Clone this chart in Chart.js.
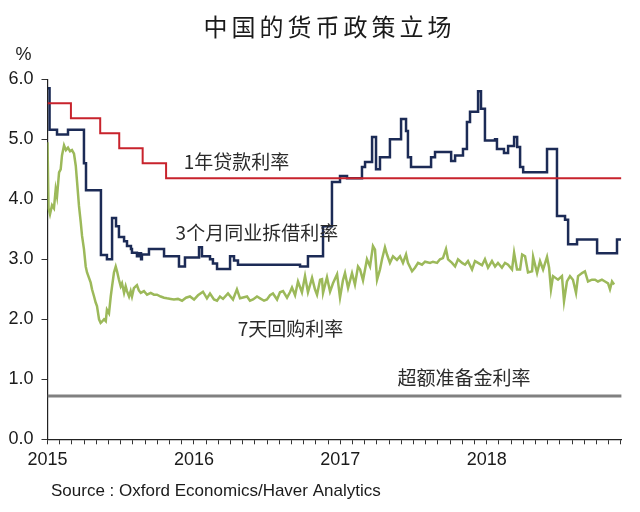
<!DOCTYPE html>
<html>
<head>
<meta charset="utf-8">
<title>中国的货币政策立场</title>
<script src="https://cdn.jsdelivr.net/npm/chart.js@4.4.1/dist/chart.umd.min.js"></script>
<style>
  html, body { margin: 0; padding: 0; background: #fff; }
  #wrap { width: 640px; height: 512px; }
</style>
</head>
<body>
<div id="wrap"><canvas id="policyChart" width="640" height="512"></canvas></div>
<script>
// Values, time in decimal years
const loanDates = [2015.0, 2015.16, 2015.36, 2015.49, 2015.65, 2015.81, 2018.92];
const loanRates = [5.6, 5.35, 5.1, 4.85, 4.6, 4.35, 4.35];

const shiborDates = [
  2015.003, 2015.014, 2015.065, 2015.140, 2015.249, 2015.263, 2015.365, 2015.406, 2015.441, 2015.468,
  2015.488, 2015.523, 2015.543, 2015.570, 2015.577, 2015.611, 2015.624, 2015.639, 2015.645, 2015.693,
  2015.796, 2015.898, 2015.939, 2016.035, 2016.055, 2016.110, 2016.130, 2016.158, 2016.247, 2016.274,
  2016.301, 2016.725, 2016.779, 2016.882, 2016.943, 2016.998, 2017.046, 2017.148, 2017.169, 2017.217,
  2017.244, 2017.271, 2017.339, 2017.415, 2017.449, 2017.462, 2017.483, 2017.620, 2017.647, 2017.757,
  2017.784, 2017.838, 2017.865, 2017.886, 2017.941, 2017.961, 2017.988, 2018.057, 2018.070, 2018.118,
  2018.146, 2018.187, 2018.208, 2018.228, 2018.249, 2018.412, 2018.480, 2018.535, 2018.556, 2018.617,
  2018.754, 2018.890, 2018.917
];
const shiborRates = [
  5.85, 5.16, 5.08, 5.16, 4.60, 4.15, 3.07, 3.00, 3.69, 3.55,
  3.37, 3.30, 3.22, 3.17, 3.11, 3.05, 3.10, 3.00, 3.08, 3.17,
  3.05, 2.88, 3.03, 3.20, 3.05, 3.00, 2.93, 2.84, 3.05, 2.98,
  2.91, 2.88, 3.05, 3.55, 4.29, 4.39, 4.35, 4.54, 4.62, 5.04,
  4.50, 4.70, 5.00, 5.34, 5.14, 4.70, 4.54, 4.70, 4.79, 4.64,
  4.73, 4.84, 5.29, 5.46, 5.80, 5.51, 4.98, 5.00, 4.84, 4.77,
  4.89, 5.04, 4.87, 4.54, 4.45, 4.84, 3.72, 3.66, 3.25, 3.33,
  3.10, 3.33, 3.33
];

const repoDates = [
  2015.000, 2015.007, 2015.017, 2015.031, 2015.044, 2015.056, 2015.065, 2015.079, 2015.090, 2015.099,
  2015.113, 2015.126, 2015.140, 2015.154, 2015.167, 2015.181, 2015.193, 2015.202, 2015.215, 2015.227,
  2015.236, 2015.249, 2015.261, 2015.270, 2015.295, 2015.304, 2015.318, 2015.329, 2015.338, 2015.352,
  2015.363, 2015.372, 2015.386, 2015.398, 2015.406, 2015.420, 2015.432, 2015.441, 2015.454, 2015.466,
  2015.475, 2015.488, 2015.500, 2015.509, 2015.523, 2015.534, 2015.543, 2015.557, 2015.568, 2015.577,
  2015.590, 2015.602, 2015.611, 2015.624, 2015.637, 2015.659, 2015.680, 2015.705, 2015.727, 2015.748,
  2015.773, 2015.796, 2015.816, 2015.842, 2015.864, 2015.891, 2015.919, 2015.946, 2015.973, 2016.001,
  2016.028, 2016.062, 2016.089, 2016.110, 2016.137, 2016.158, 2016.178, 2016.199, 2016.233, 2016.267,
  2016.294, 2016.315, 2016.329, 2016.363, 2016.383, 2016.404, 2016.431, 2016.452, 2016.479, 2016.499,
  2016.520, 2016.540, 2016.568, 2016.588, 2016.609, 2016.636, 2016.656, 2016.670, 2016.691, 2016.711,
  2016.738, 2016.759, 2016.779, 2016.807, 2016.827, 2016.841, 2016.862, 2016.875, 2016.882, 2016.909,
  2016.930, 2016.950, 2016.978, 2016.998, 2017.018, 2017.032, 2017.053, 2017.080, 2017.100, 2017.121,
  2017.135, 2017.155, 2017.182, 2017.203, 2017.223, 2017.237, 2017.251, 2017.271, 2017.285, 2017.305,
  2017.319, 2017.339, 2017.360, 2017.387, 2017.408, 2017.428, 2017.449, 2017.462, 2017.490, 2017.510,
  2017.531, 2017.558, 2017.579, 2017.613, 2017.633, 2017.661, 2017.681, 2017.701, 2017.722, 2017.736,
  2017.763, 2017.784, 2017.804, 2017.832, 2017.852, 2017.872, 2017.900, 2017.920, 2017.941, 2017.968,
  2017.988, 2018.009, 2018.036, 2018.057, 2018.077, 2018.104, 2018.125, 2018.146, 2018.173, 2018.187,
  2018.207, 2018.228, 2018.242, 2018.262, 2018.282, 2018.310, 2018.317, 2018.344, 2018.364, 2018.385,
  2018.412, 2018.426, 2018.439, 2018.453, 2018.487, 2018.514, 2018.528, 2018.548, 2018.569, 2018.589,
  2018.610, 2018.624, 2018.651, 2018.671, 2018.692, 2018.719, 2018.740, 2018.760, 2018.787, 2018.808,
  2018.829, 2018.842, 2018.856, 2018.870
];
const repoRates = [
  4.95, 3.85, 3.75, 3.90, 3.85, 4.17, 4.05, 4.45, 4.50, 4.73,
  4.90, 4.82, 4.86, 4.80, 4.82, 4.76, 4.56, 4.29, 3.89, 3.62,
  3.39, 3.17, 2.88, 2.78, 2.61, 2.50, 2.38, 2.28, 2.22, 2.00,
  1.94, 1.96, 2.00, 1.97, 2.16, 2.10, 2.38, 2.55, 2.78, 2.88,
  2.80, 2.66, 2.55, 2.60, 2.44, 2.55, 2.47, 2.38, 2.47, 2.38,
  2.52, 2.55, 2.57, 2.48, 2.44, 2.47, 2.41, 2.44, 2.41, 2.41,
  2.38, 2.36, 2.35, 2.34, 2.33, 2.34, 2.31, 2.36, 2.38, 2.33,
  2.40, 2.46, 2.35, 2.43, 2.33, 2.31, 2.38, 2.34, 2.43, 2.33,
  2.50, 2.35, 2.36, 2.38, 2.31, 2.33, 2.38, 2.35, 2.31, 2.33,
  2.40, 2.43, 2.33, 2.45, 2.47, 2.36, 2.45, 2.53, 2.40, 2.63,
  2.45, 2.72, 2.45, 2.69, 2.50, 2.41, 2.66, 2.67, 2.44, 2.70,
  2.46, 2.60, 2.75, 2.36, 2.65, 2.77, 2.52, 2.77, 2.58, 2.88,
  2.83, 2.65, 3.00, 2.88, 3.22, 3.16, 2.66, 2.83, 3.00, 3.20,
  3.08, 2.94, 3.05, 2.99, 3.05, 2.94, 3.08, 2.94, 2.80, 2.86,
  2.94, 2.91, 2.96, 2.94, 2.96, 2.94, 3.00, 3.02, 3.17, 3.00,
  2.94, 2.88, 3.00, 2.94, 2.91, 2.97, 2.83, 2.97, 2.94, 2.90,
  3.00, 2.86, 2.97, 2.88, 2.94, 2.86, 2.94, 2.91, 2.83, 3.11,
  2.83, 2.83, 3.08, 3.05, 2.78, 2.80, 3.04, 2.77, 2.97, 2.83,
  3.04, 2.86, 2.50, 2.72, 2.66, 2.72, 2.30, 2.63, 2.72, 2.66,
  2.44, 2.72, 2.77, 2.80, 2.63, 2.66, 2.66, 2.63, 2.66, 2.63,
  2.60, 2.50, 2.63, 2.58
];

const excessDates = [2015.0, 2018.93];
const excessRates = [0.72, 0.72];

const yearTickValues = [2015, 2016, 2017, 2018];
const yearTickLabels = ['2015', '2016', '2017', '2018'];
// monthly minor ticks on the time axis
const monthTicks = [];
for (let i = 0; i < 48; i++) monthTicks.push(2015 + i / 12);

const seriesLabels = [
  { text: '1年贷款利率', x: 2015.93, y: 4.62 },
  { text: '3个月同业拆借利率', x: 2015.875, y: 3.44 },
  { text: '7天回购利率', x: 2016.30, y: 1.84 },
  { text: '超额准备金利率', x: 2017.39, y: 1.02 }
];

const CJK = '"Noto Sans CJK SC", "Noto Sans", sans-serif';
const LATIN = '"Liberation Sans", Arial, sans-serif';

function toPoints(xs, ys) {
  return xs.map((x, i) => ({ x: x, y: ys[i] }));
}

// Title, unit, source line and in-chart series names
const textPlugin = {
  id: 'chartTexts',
  afterDraw(chart) {
    const ctx = chart.ctx;
    const xs = chart.scales.x, ys = chart.scales.y;
    ctx.save();
    ctx.fillStyle = '#1a1a1a';
    ctx.textBaseline = 'middle';
    ctx.textAlign = 'center';
    ctx.font = '24px ' + CJK;
    ctx.letterSpacing = '4px';
    ctx.fillText('中国的货币政策立场', 329.5, 27);
    ctx.letterSpacing = '0px';

    ctx.font = '18px ' + LATIN;
    ctx.fillText('%', 23.5, 55);

    ctx.textAlign = 'left';
    ctx.font = '17px ' + LATIN;
    ctx.fillText('Source : Oxford Economics/Haver Analytics', 51, 491);

    ctx.fillStyle = '#2a2a2a';
    ctx.font = '19px ' + CJK;
    seriesLabels.forEach(l => {
      ctx.fillText(l.text, xs.getPixelForValue(l.x), ys.getPixelForValue(l.y));
    });
    ctx.restore();
  }
};

const ctx = document.getElementById('policyChart').getContext('2d');
const chart = new Chart(ctx, {
  type: 'line',
  data: {
    datasets: [
      {
        label: '1年贷款利率',
        data: toPoints(loanDates, loanRates),
        borderColor: '#c8232c',
        borderWidth: 2,
        stepped: true
      },
      {
        label: '3个月同业拆借利率',
        data: toPoints(shiborDates, shiborRates),
        borderColor: '#1c2b56',
        borderWidth: 2.5,
        stepped: true
      },
      {
        label: '7天回购利率',
        data: toPoints(repoDates, repoRates),
        borderColor: '#9cb95a',
        borderWidth: 2.5
      },
      {
        label: '超额准备金利率',
        data: toPoints(excessDates, excessRates),
        borderColor: '#808080',
        borderWidth: 3
      }
    ]
  },
  options: {
    responsive: false,
    animation: false,
    elements: { point: { radius: 0 }, line: { tension: 0 } },
    layout: { padding: { top: 79.3, left: 0, right: 18.6, bottom: 0 } },
    plugins: {
      legend: { display: false },
      title: { display: false },
      tooltip: { enabled: false }
    },
    scales: {
      x: {
        type: 'linear',
        min: 2015,
        max: 2018.92,
        afterBuildTicks: s => { s.ticks = monthTicks.map(v => ({ value: v })); },
        afterFit: s => { s.height = 72.7; },
        ticks: {
          autoSkip: false,
          maxRotation: 0,
          padding: 5,
          color: '#1a1a1a',
          font: { family: LATIN, size: 18 },
          callback: v => {
            const i = yearTickValues.findIndex(y => Math.abs(y - v) < 1e-6);
            return i >= 0 ? yearTickLabels[i] : '';
          }
        },
        grid: { drawOnChartArea: false, tickLength: 5, color: '#333', lineWidth: 1 },
        border: { display: true, color: '#222', width: 1.2 }
      },
      y: {
        min: 0,
        max: 6,
        afterFit: s => { s.width = 47.5; },
        ticks: {
          stepSize: 1,
          padding: 8,
          color: '#1a1a1a',
          font: { family: LATIN, size: 18 },
          callback: v => v.toFixed(1)
        },
        grid: { drawOnChartArea: false, tickLength: 6, color: '#333', lineWidth: 1 },
        border: { display: true, color: '#222', width: 1.2 }
      }
    }
  },
  plugins: [textPlugin]
});
</script>
</body>
</html>
